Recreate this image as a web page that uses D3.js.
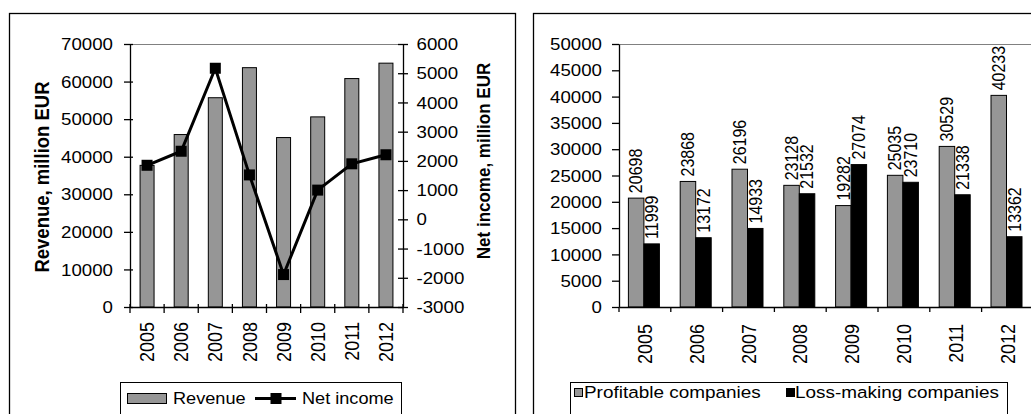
<!DOCTYPE html>
<html>
<head>
<meta charset="utf-8">
<script src="https://cdn.jsdelivr.net/npm/d3@7"></script>
<style>
  body { margin: 0; background: #fff; }
  svg { display: block; font-family: "Liberation Sans", Arial, sans-serif; }
</style>
</head>
<body>
<svg id="chart" width="1031" height="414"></svg>
<script>
// ---- data ----
const years = ["2005", "2006", "2007", "2008", "2009", "2010", "2011", "2012"];
const revenue = [37700, 45900, 55700, 63700, 45100, 50600, 60800, 64900];
const netIncome = [1850, 2330, 5170, 1520, -1890, 1000, 1900, 2210];
const profitable = [20698, 23868, 26196, 23128, 19282, 25035, 30529, 40233];
const lossMaking = [11999, 13172, 14933, 21532, 27074, 23710, 21338, 13362];
const revenueTicks = [0, 10000, 20000, 30000, 40000, 50000, 60000, 70000];
const incomeTicks = [-3000, -2000, -1000, 0, 1000, 2000, 3000, 4000, 5000, 6000];
const companyTicks = [0, 5000, 10000, 15000, 20000, 25000, 30000, 35000, 40000, 45000, 50000];
const leftLegendLabels = ["Revenue", "Net income"];
const rightLegendLabels = ["Profitable companies", "Loss-making companies"];
const leftTitles = ["Revenue, million EUR", "Net income, million EUR"];

// ---- styling ----
const GREY = "#969696";
const SX = 1.1;          // horizontal widening of glyphs
const FS = 17;           // tick font size
const FS_YEAR = 18;      // rotated category labels
const svg = d3.select("#chart");

// text helper: positioned by a transform, optionally rotated
function txt(g, x, y, s, o = {}) {
  return g.append("text")
    .attr("transform", `translate(${x},${y}) scale(${SX},1)` + (o.rot ? ` rotate(${o.rot})` : ""))
    .attr("text-anchor", o.anchor || "start")
    .attr("dy", o.dy || 0)
    .attr("font-size", o.size || FS)
    .attr("font-weight", o.weight || "normal")
    .attr("fill", "#000")
    .text(s);
}

// ================= left chart: revenue and net income =================
const L = { x0: 130, x1: 403, y0: 44, y1: 307 };
const gl = svg.append("g");

gl.append("rect").attr("x", 9.5).attr("y", 13.5).attr("width", 506).attr("height", 460)
  .attr("fill", "none").attr("stroke", "#000").attr("stroke-width", 1.3);

const xL = d3.scaleBand().domain(years).range([L.x0, L.x1]).padding(0);
const yRev = d3.scaleLinear().domain([0, 70000]).range([L.y1, L.y0]);
const yInc = d3.scaleLinear().domain([-3000, 6000]).range([L.y1, L.y0]);

// plot area top edge
gl.append("line").attr("x1", L.x0).attr("x2", L.x1).attr("y1", L.y0 + 0.5).attr("y2", L.y0 + 0.5)
  .attr("stroke", "#808080").attr("stroke-width", 1);

// revenue bars
const barWL = 14;
gl.selectAll("rect.rev").data(years).join("rect").attr("class", "rev")
  .attr("x", d => xL(d) + xL.bandwidth() / 2 - barWL / 2)
  .attr("y", (d, i) => yRev(revenue[i]))
  .attr("width", barWL)
  .attr("height", (d, i) => yRev(0) - yRev(revenue[i]))
  .attr("fill", GREY).attr("stroke", "#000").attr("stroke-width", 1);

// left axis (ticks cross the axis line)
const axL = gl.append("g").attr("transform", `translate(${L.x0},0)`)
  .call(d3.axisLeft(yRev).tickValues(revenueTicks).tickSize(6).tickSizeOuter(0).tickPadding(0).tickFormat(d3.format("d")));
axL.select(".domain").attr("stroke", "#000").attr("stroke-width", 1.3);
axL.selectAll(".tick line").attr("x1", 3).attr("x2", -6).attr("stroke", "#000").attr("stroke-width", 1.3);
axL.selectAll(".tick text").remove();
revenueTicks.forEach(v => txt(gl, L.x0 - 17, yRev(v), String(v), { anchor: "end", dy: "0.36em" }));

// right axis
const axR = gl.append("g").attr("transform", `translate(${L.x1},0)`)
  .call(d3.axisRight(yInc).tickValues(incomeTicks).tickSize(6).tickSizeOuter(0).tickFormat(d3.format("d")));
axR.select(".domain").attr("stroke", "#000").attr("stroke-width", 1.3);
axR.selectAll(".tick line").attr("x1", -5).attr("x2", 5).attr("stroke", "#000").attr("stroke-width", 1.3);
axR.selectAll(".tick text").remove();
incomeTicks.forEach(v => txt(gl, L.x1 + 13.5, yInc(v), String(v), { anchor: "start", dy: "0.36em" }));

// category axis: ticks at band boundaries, rotated year labels
const axB = gl.append("g").attr("transform", `translate(0,${L.y1})`)
  .call(d3.axisBottom(xL).tickSize(0).tickSizeOuter(0).tickFormat(""));
axB.select(".domain").attr("stroke", "#000").attr("stroke-width", 1.3);
years.concat(["end"]).forEach((d, i) => {
  const x = L.x0 + i * xL.bandwidth();
  gl.append("line").attr("x1", x).attr("x2", x).attr("y1", L.y1 - 3).attr("y2", L.y1 + 6)
    .attr("stroke", "#000").attr("stroke-width", 1.3);
});
years.forEach(d => txt(gl, xL(d) + xL.bandwidth() / 2, L.y1 + 15, d, { anchor: "end", rot: -90, dy: "0.36em", size: FS_YEAR }));

// net income line with square markers
const line = d3.line().x((d, i) => xL(years[i]) + xL.bandwidth() / 2).y(d => yInc(d));
gl.append("path").datum(netIncome).attr("d", line)
  .attr("fill", "none").attr("stroke", "#000").attr("stroke-width", 3).attr("stroke-linejoin", "miter");
const mk = 11;
gl.selectAll("rect.mk").data(netIncome).join("rect").attr("class", "mk")
  .attr("x", (d, i) => xL(years[i]) + xL.bandwidth() / 2 - mk / 2)
  .attr("y", d => yInc(d) - mk / 2)
  .attr("width", mk).attr("height", mk).attr("fill", "#000");

// axis titles
txt(gl, 42, 177, leftTitles[0], { anchor: "middle", rot: -90, dy: "0.36em", size: 18.5, weight: "bold" });
txt(gl, 483, 161, leftTitles[1], { anchor: "middle", rot: -90, dy: "0.36em", size: 17, weight: "bold" });

// legend
gl.append("rect").attr("x", 120.5).attr("y", 382.5).attr("width", 281).attr("height", 60)
  .attr("fill", "#fff").attr("stroke", "#000").attr("stroke-width", 1);
gl.append("rect").attr("x", 127.5).attr("y", 393.5).attr("width", 39).attr("height", 10)
  .attr("fill", GREY).attr("stroke", "#000").attr("stroke-width", 1);
txt(gl, 173, 404, leftLegendLabels[0], { size: 16.5 });
gl.append("line").attr("x1", 255).attr("x2", 296).attr("y1", 398.5).attr("y2", 398.5)
  .attr("stroke", "#000").attr("stroke-width", 3);
gl.append("rect").attr("x", 276 - mk / 2).attr("y", 398.5 - mk / 2).attr("width", mk).attr("height", mk).attr("fill", "#000");
txt(gl, 302, 404, leftLegendLabels[1], { size: 16.5 });

// ================= right chart: profitable vs loss-making companies =================
const R = { x0: 619, y0: 44, y1: 307 };
const bandR = 51.8;
R.x1 = R.x0 + bandR * years.length;
const gr = svg.append("g");

gr.append("rect").attr("x", 533.5).attr("y", 13.5).attr("width", 620).attr("height", 460)
  .attr("fill", "none").attr("stroke", "#000").attr("stroke-width", 1.3);

const xR = d3.scaleBand().domain(years).range([R.x0, R.x1]).padding(0);
const yC = d3.scaleLinear().domain([0, 50000]).range([R.y1, R.y0]);

gr.append("line").attr("x1", R.x0).attr("x2", R.x1).attr("y1", R.y0 + 0.5).attr("y2", R.y0 + 0.5)
  .attr("stroke", "#808080").attr("stroke-width", 1);

const barWR = 15.5;
const series = [
  { values: profitable, fill: GREY, off: -barWR },
  { values: lossMaking, fill: "#000", off: 0 }
];
series.forEach(s => {
  gr.selectAll(null).data(years).join("rect")
    .attr("x", d => xR(d) + xR.bandwidth() / 2 + s.off - 1)
    .attr("y", (d, i) => yC(s.values[i]))
    .attr("width", barWR)
    .attr("height", (d, i) => yC(0) - yC(s.values[i]))
    .attr("fill", s.fill).attr("stroke", "#000").attr("stroke-width", 1);
});
// value labels above each bar
series.forEach(s => {
  years.forEach((d, i) => {
    const cx = xR(d) + xR.bandwidth() / 2 + s.off - 1 + barWR / 2;
    txt(gr, cx, yC(s.values[i]) - 5, String(s.values[i]), { anchor: "start", rot: -90, dy: "0.36em", size: 16 });
  });
});

const axC = gr.append("g").attr("transform", `translate(${R.x0},0)`)
  .call(d3.axisLeft(yC).tickValues(companyTicks).tickSize(7).tickSizeOuter(0).tickFormat(d3.format("d")));
axC.select(".domain").attr("stroke", "#000").attr("stroke-width", 1.3);
axC.selectAll(".tick line").attr("stroke", "#000").attr("stroke-width", 1.3);
axC.selectAll(".tick text").remove();
companyTicks.forEach(v => txt(gr, R.x0 - 17, yC(v), String(v), { anchor: "end", dy: "0.36em" }));

const axCB = gr.append("g").attr("transform", `translate(0,${R.y1})`)
  .call(d3.axisBottom(xR).tickSize(0).tickSizeOuter(0).tickFormat(""));
axCB.select(".domain").attr("stroke", "#000").attr("stroke-width", 1.3);
years.concat(["end"]).forEach((d, i) => {
  const x = R.x0 + i * bandR;
  gr.append("line").attr("x1", x).attr("x2", x).attr("y1", R.y1).attr("y2", R.y1 + 5)
    .attr("stroke", "#000").attr("stroke-width", 1.3);
});
years.forEach(d => txt(gr, xR(d) + xR.bandwidth() / 2, R.y1 + 17, d, { anchor: "end", rot: -90, dy: "0.36em", size: FS_YEAR }));

// legend
gr.append("rect").attr("x", 570.5).attr("y", 382.5).attr("width", 437).attr("height", 60)
  .attr("fill", "#fff").attr("stroke", "#000").attr("stroke-width", 1);
gr.append("rect").attr("x", 574.5).attr("y", 388.5).attr("width", 8).attr("height", 8)
  .attr("fill", GREY).attr("stroke", "#000").attr("stroke-width", 1);
txt(gr, 584, 398, rightLegendLabels[0], { size: 17.2 });
gr.append("rect").attr("x", 786.5).attr("y", 388.5).attr("width", 8).attr("height", 8)
  .attr("fill", "#000").attr("stroke", "#000").attr("stroke-width", 1);
txt(gr, 795, 398, rightLegendLabels[1], { size: 17.2 });
</script>
</body>
</html>
